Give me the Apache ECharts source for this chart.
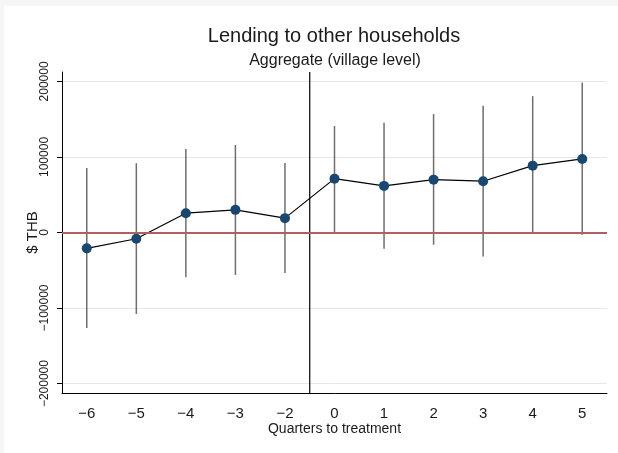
<!DOCTYPE html>
<html>
<head>
<meta charset="utf-8">
<script src="https://cdn.jsdelivr.net/npm/echarts@6/dist/echarts.min.js"></script>
<style>
  html, body { margin: 0; padding: 0; background: #f6f6f6; }
  #chart { width: 618px; height: 453px; }
</style>
</head>
<body>
<div id="chart"></div>
<script>
// Event-study estimates: lending to other households, village aggregate
const quarters = ['\u22126', '\u22125', '\u22124', '\u22123', '\u22122', '0', '1', '2', '3', '4', '5'];
const estimate = [-21000, -8300, 25600, 30000, 19000, 71300, 61700, 70000, 67900, 88500, 97400];
const ciLow    = [-126300, -107800, -59400, -56300, -53700, 500, -21500, -16200, -31700, -2100, -3000];
const ciHigh   = [85500, 91700, 110600, 115900, 92100, 141000, 145300, 156800, 167800, 180600, 198700];
const yTicks   = [-200000, -100000, 0, 100000, 200000];
const yRange   = [-212500, 212500];

// treatment starts between the last pre-period and quarter 0
const treatAt = quarters.indexOf('0') - 0.5;

const font = '"Liberation Sans", Arial, Helvetica, sans-serif';
const ink = '#1a1a1a';

const chart = echarts.init(document.getElementById('chart'), null, { renderer: 'canvas' });

chart.setOption({
  backgroundColor: '#f6f6f6',
  animation: false,
  graphic: [{
    type: 'rect', z: -10, silent: true,
    shape: { x: 4, y: 6, width: 614, height: 447 },
    style: { fill: '#ffffff' }
  }],
  title: [
    {
      text: 'Lending to other households',
      left: 329, top: 21, textAlign: 'center',
      textStyle: { fontFamily: font, fontSize: 20, fontWeight: 'normal', color: ink }
    },
    {
      text: 'Aggregate (village level)',
      left: 330, top: 48, textAlign: 'center',
      textStyle: { fontFamily: font, fontSize: 16, fontWeight: 'normal', color: ink }
    }
  ],
  grid: { left: 62, right: 11, top: 72, bottom: 60, containLabel: false },
  xAxis: [
    {
      type: 'category',
      data: quarters,
      boundaryGap: true,
      name: 'Quarters to treatment',
      nameLocation: 'middle',
      nameGap: 29,
      nameMoveOverlap: false,
      nameTextStyle: { fontFamily: font, fontSize: 14, color: ink },
      axisLine: { onZero: false, lineStyle: { color: '#000', width: 1 } },
      axisTick: { alignWithLabel: true, length: 5, lineStyle: { color: '#000' } },
      axisLabel: { fontFamily: font, fontSize: 15, color: ink, margin: 13 },
      splitLine: { show: false }
    },
    {
      type: 'value', show: false,
      min: -0.5, max: quarters.length - 0.5
    }
  ],
  yAxis: {
    type: 'value',
    min: yRange[0], max: yRange[1],
    name: '$ THB',
    nameLocation: 'middle',
    nameGap: 22,
    nameMoveOverlap: false,
    nameTextStyle: { fontFamily: font, fontSize: 15, color: ink },
    axisLine: { show: true, onZero: false, lineStyle: { color: '#000', width: 1 } },
    axisTick: { show: true, length: 5, customValues: yTicks, lineStyle: { color: '#000' } },
    axisLabel: {
      fontFamily: font, fontSize: 12, color: ink, rotate: 90, margin: 11,
      customValues: yTicks,
      formatter: v => (v < 0 ? '\u2212' : '') + String(Math.abs(v))
    },
    splitLine: { show: true, lineStyle: { color: '#e6e6e6', width: 1 } }
  },
  series: [
    {
      // zero reference line
      type: 'line', data: [], silent: true,
      markLine: {
        silent: true, symbol: 'none', label: { show: false },
        lineStyle: { color: '#b45f5f', width: 2, type: 'solid' },
        data: [{ yAxis: 0 }]
      },
      z: 1
    },
    {
      // confidence intervals
      type: 'custom',
      silent: true,
      z: 2,
      data: quarters.map((q, i) => [i, ciLow[i], ciHigh[i]]),
      renderItem: function (params, api) {
        const lo = api.coord([api.value(0), api.value(1)]);
        const hi = api.coord([api.value(0), api.value(2)]);
        return {
          type: 'line',
          shape: { x1: lo[0], y1: lo[1], x2: hi[0], y2: hi[1] },
          style: { stroke: '#6e6e6e', lineWidth: 1.5 }
        };
      }
    },
    {
      // treatment onset
      type: 'line',
      xAxisIndex: 1,
      data: [[treatAt, yRange[0]], [treatAt, yRange[1]]],
      symbol: 'none',
      silent: true,
      lineStyle: { color: '#000', width: 1.2 },
      z: 3
    },
    {
      type: 'line',
      data: estimate,
      symbol: 'circle',
      symbolSize: 10,
      lineStyle: { color: '#000', width: 1.2 },
      itemStyle: { color: '#1a476f', borderWidth: 0 },
      z: 4
    }
  ]
});
</script>
</body>
</html>
